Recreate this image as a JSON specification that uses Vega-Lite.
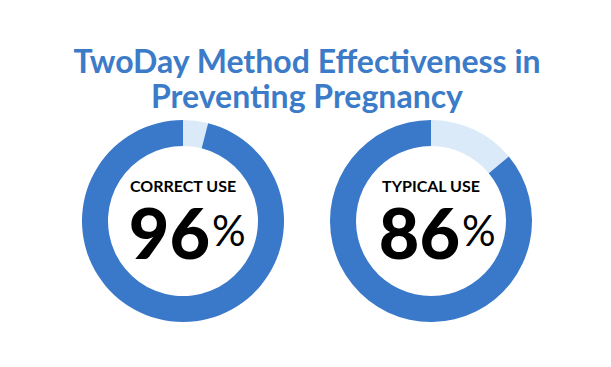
{
  "$schema": "https://vega.github.io/schema/vega-lite/v6.json",
  "background": "white",
  "padding": {"left": 72, "right": 71, "top": 47, "bottom": 10},
  "title": {
    "text": ["TwoDay Method Effectiveness in", "Preventing Pregnancy"],
    "anchor": "middle",
    "font": "Lato",
    "fontSize": 32,
    "fontWeight": "bold",
    "color": "#3c7bc8",
    "lineHeight": 35,
    "offset": 1
  },
  "data": {
    "values": [
      {"panel": "correct", "label": "CORRECT USE", "part": "failure", "pct": 4, "ord": 0},
      {"panel": "correct", "label": "CORRECT USE", "part": "effective", "pct": 96, "ord": 1},
      {"panel": "typical", "label": "TYPICAL USE", "part": "failure", "pct": 14, "ord": 0},
      {"panel": "typical", "label": "TYPICAL USE", "part": "effective", "pct": 86, "ord": 1}
    ]
  },
  "spacing": 28,
  "hconcat": [
    {
      "width": 220,
      "height": 210,
      "transform": [{"filter": "datum.panel == 'correct'"}],
      "layer": [
        {
          "mark": {"type": "arc", "outerRadius": 101, "innerRadius": 75},
          "encoding": {
            "theta": {"field": "pct", "type": "quantitative", "stack": true},
            "order": {"field": "ord", "type": "quantitative"},
            "color": {"field": "part", "type": "nominal", "legend": null,
              "scale": {"domain": ["effective", "failure"], "range": ["#3a78c9", "#dbeaf8"]}}
          }
        },
        {
          "transform": [{"filter": "datum.part == 'effective'"}],
          "mark": {"type": "text", "font": "Lato", "fontWeight": "bold", "fontSize": 16, "dy": -34, "baseline": "middle", "align": "center", "color": "#000000"},
          "encoding": {"text": {"field": "label"}}
        },
        {
          "transform": [{"filter": "datum.part == 'effective'"}],
          "mark": {"type": "text", "font": "Lato", "fontWeight": 900, "fontSize": 70, "dy": 38, "dx": 27, "baseline": "alphabetic", "align": "right", "color": "#000000"},
          "encoding": {"text": {"field": "pct"}}
        },
        {
          "transform": [{"filter": "datum.part == 'effective'"}],
          "mark": {"type": "text", "font": "Lato", "fontWeight": "normal", "fontSize": 42, "dy": 25, "dx": 29, "baseline": "alphabetic", "align": "left", "color": "#000000", "text": "%"},
          "encoding": {}
        }
      ]
    },
    {
      "width": 220,
      "height": 210,
      "transform": [{"filter": "datum.panel == 'typical'"}],
      "layer": [
        {
          "mark": {"type": "arc", "outerRadius": 101, "innerRadius": 75},
          "encoding": {
            "theta": {"field": "pct", "type": "quantitative", "stack": true},
            "order": {"field": "ord", "type": "quantitative"},
            "color": {"field": "part", "type": "nominal", "legend": null,
              "scale": {"domain": ["effective", "failure"], "range": ["#3a78c9", "#dbeaf8"]}}
          }
        },
        {
          "transform": [{"filter": "datum.part == 'effective'"}],
          "mark": {"type": "text", "font": "Lato", "fontWeight": "bold", "fontSize": 16, "dy": -34, "baseline": "middle", "align": "center", "color": "#000000"},
          "encoding": {"text": {"field": "label"}}
        },
        {
          "transform": [{"filter": "datum.part == 'effective'"}],
          "mark": {"type": "text", "font": "Lato", "fontWeight": 900, "fontSize": 70, "dy": 38, "dx": 29, "baseline": "alphabetic", "align": "right", "color": "#000000"},
          "encoding": {"text": {"field": "pct"}}
        },
        {
          "transform": [{"filter": "datum.part == 'effective'"}],
          "mark": {"type": "text", "font": "Lato", "fontWeight": "normal", "fontSize": 42, "dy": 25, "dx": 31, "baseline": "alphabetic", "align": "left", "color": "#000000", "text": "%"},
          "encoding": {}
        }
      ]
    }
  ],
  "config": {"view": {"stroke": null}}
}
